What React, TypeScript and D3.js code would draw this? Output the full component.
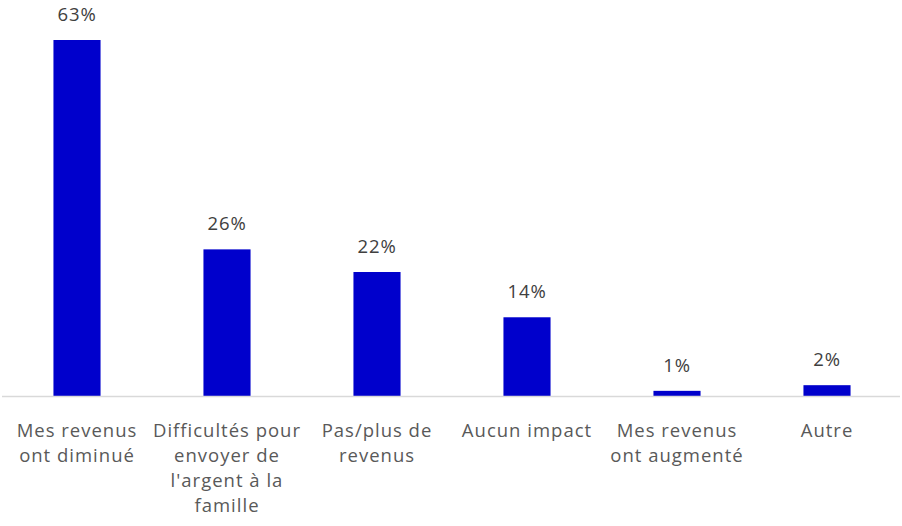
import React from 'react';
import * as d3 from 'd3';

const categories = [
  'Mes revenus ont diminué',
  'Difficultés pour envoyer de l\'argent à la famille',
  'Pas/plus de revenus',
  'Aucun impact',
  'Mes revenus ont augmenté',
  'Autre',
];
const categoryLines = [
  ['Mes revenus', 'ont diminué'],
  ['Difficultés pour', 'envoyer de', 'l\'argent à la', 'famille'],
  ['Pas/plus de', 'revenus'],
  ['Aucun impact'],
  ['Mes revenus', 'ont augmenté'],
  ['Autre'],
];
const values = [63, 26, 22, 14, 1, 2];

const width = 902;
const height = 526;
const baseline = 396.5;
const font = '"Open Sans", sans-serif';

const App = () => {
  const x = d3.scaleBand().domain(categories).range([2, 902]).paddingInner(0.686).paddingOuter(0.343);
  const y = d3.scaleLinear().domain([0, 63]).range([baseline, 40]);

  return (
    <svg width={width} height={height} style={{ position: 'absolute', left: 0, top: 0 }}>
      {categories.map((c, i) => (
        <rect key={c} x={x(c)} y={y(values[i])} width={x.bandwidth()} height={baseline - y(values[i])} fill="#0000cc" />
      ))}
      <line x1={2} x2={900} y1={baseline} y2={baseline} stroke="#d9d9d9" strokeWidth={1.5} />
      {categories.map((c, i) => (
        <text key={c + 'v'} x={x(c) + x.bandwidth() / 2} y={y(values[i]) - 19} textAnchor="middle"
          fontFamily={font} fontSize={18.5} letterSpacing={0.9} fill="#404040">{values[i]}%</text>
      ))}
      {categories.map((c, i) => (
        <text key={c + 'l'} x={x(c) + x.bandwidth() / 2} y={437} textAnchor="middle"
          fontFamily={font} fontSize={18.5} letterSpacing={1} fill="#595959">
          {categoryLines[i].map((l, j) => (
            <tspan key={j} x={x(c) + x.bandwidth() / 2} dy={j === 0 ? 0 : 25}>{l}</tspan>
          ))}
        </text>
      ))}
    </svg>
  );
};

export default App;
